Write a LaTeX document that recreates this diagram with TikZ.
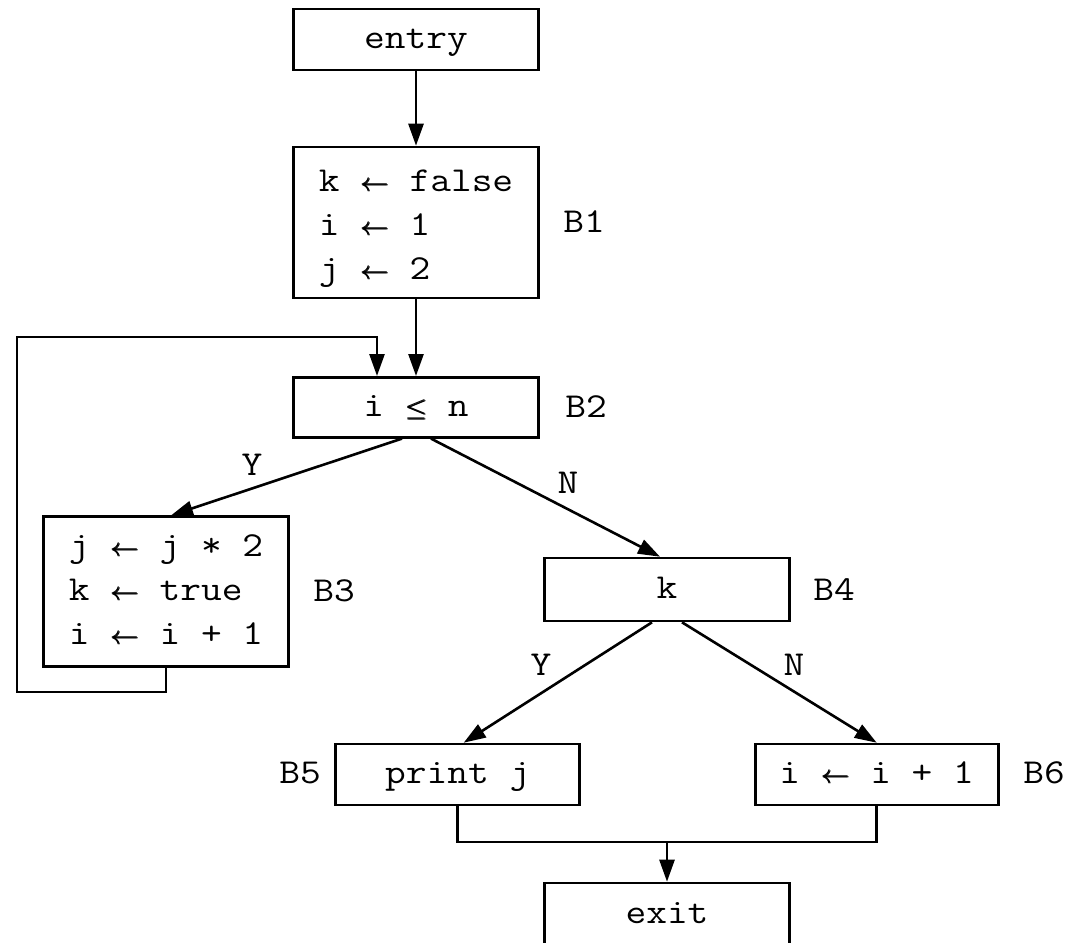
\documentclass[tikz,border=0pt]{standalone}
\usepackage{graphicx}
\usetikzlibrary{arrows.meta}
\newcommand\tfont{\fontsize{35}{44}\selectfont\ttfamily}
\newcommand\sx[1]{\scalebox{1.15}[1]{#1}}
\newcommand\lines[1]{\sx{\begin{tabular}{@{}l@{}}#1\end{tabular}}}
\newcommand\heavy[1]{\mbox{\rlap{$#1$}\rlap{\raisebox{0.6pt}{$#1$}}\kern0.8pt$#1$\kern-0.8pt}}
\newcommand\la{\heavy{\leftarrow}}
\newcommand\lle{\heavy{\leq}}
\tikzset{
  box/.style={draw, line width=2.6pt, inner sep=0pt, minimum width=245pt, font=\tfont},
  sbox/.style={box, minimum height=61pt, text height=24pt, text depth=6pt},
  lbl/.style={inner sep=0pt, font=\tfont, text height=21pt, text depth=0pt},
  conn/.style={line width=2.6pt},
  arr/.style={conn, -{Triangle[length=22pt,width=15pt]}}
}
\begin{document}
\begin{tikzpicture}[x=1pt,y=-1pt]
\useasboundingbox (0,0) rectangle (1069,943);
\fill[white] (0,0) rectangle (1069,943);
% boxes
\node[sbox] (entry) at (416,39.5) {\sx{entry}};
\node[box, minimum height=151pt] (B1) at (416,222.5)
  {\raisebox{-4pt}[\height][\depth]{\lines{k \la{} false\\ i \la{} 1\\ j \la{} 2}}};
\node[sbox, minimum height=60pt] (B2) at (416,407.3) {\sx{i \lle{} n}};
\node[box, minimum height=150pt] (B3) at (166,591.7)
  {\lines{j \la{} j * 2\\ k \la{} true\\ i \la{} i + 1}};
\node[sbox, minimum height=63pt] (B4) at (667,589.5) {\sx{k}};
\node[sbox, minimum width=244pt] (B5) at (457.7,774.5) {\sx{print j}};
\node[sbox, minimum width=243pt] (B6) at (876.7,774.5) {\sx{i \la{} i + 1}};
\node[sbox, minimum height=63pt] (exit) at (667,914.5) {\sx{exit}};
% block labels
\node[lbl] (lB1) at (584,222) {\sx{B1}};
\node[lbl] (lB2) at (586,407) {\sx{B2}};
\node[lbl] (lB3) at (334,591) {\sx{B3}};
\node[lbl] (lB4) at (834,590) {\sx{B4}};
\node[lbl] (lB5) at (300,773) {\sx{B5}};
\node[lbl] (lB6) at (1044,773) {\sx{B6}};
% branch labels
\node[lbl] (y1) at (252,465) {\sx{Y}};
\node[lbl] (n1) at (568,483) {\sx{N}};
\node[lbl] (y2) at (541,665) {\sx{Y}};
\node[lbl] (n2) at (794,665) {\sx{N}};
% coordinates for routed connectors
\coordinate (lbl) at (17,692);
\coordinate (ltl) at (17,337);
\coordinate (ltr) at (377,337);
\coordinate (m) at (667,842);
% connectors
\draw[arr] (entry.south) -- (B1.north);
\draw[arr] (B1.south) -- (B2.north);
\draw[arr] (B3.south) |- (lbl) -- (ltl) -- (ltr) -- (ltr |- B2.north);
\draw[arr] ([xshift=-14pt]B2.south) -- ([xshift=5pt]B3.north);
\draw[arr] ([xshift=15pt]B2.south) -- ([xshift=-7pt]B4.north);
\draw[arr] ([xshift=-15pt]B4.south) -- ([xshift=6pt]B5.north);
\draw[arr] ([xshift=15pt]B4.south) -- (B6.north);
\draw[conn] (B5.south) |- (m) -| (B6.south);
\draw[arr] (m) -- (exit.north);
\end{tikzpicture}
\end{document}
